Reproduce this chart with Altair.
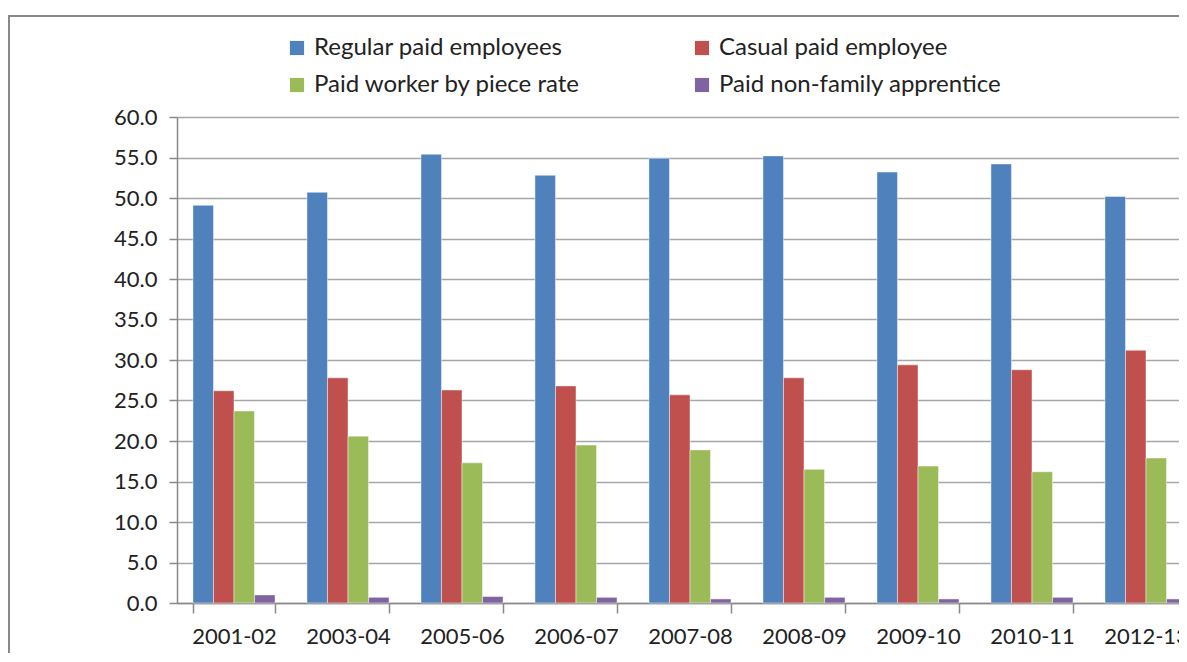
import altair as alt
import pandas as pd

categories = ["2001-02", "2003-04", "2005-06", "2006-07", "2007-08",
              "2008-09", "2009-10", "2010-11", "2012-13"]
series_names = ["Regular paid employees", "Casual paid employee",
                "Paid worker by piece rate", "Paid non-family apprentice"]
regular = [49.1, 50.7, 55.4, 52.8, 54.9, 55.2, 53.2, 54.2, 50.2]
casual = [26.2, 27.8, 26.3, 26.8, 25.7, 27.8, 29.4, 28.8, 31.2]
piece = [23.7, 20.6, 17.3, 19.5, 18.9, 16.5, 16.9, 16.2, 17.9]
apprentice = [1.0, 0.7, 0.8, 0.7, 0.5, 0.7, 0.5, 0.7, 0.5]
colors = ["#4F81BD", "#C0504D", "#9BBB59", "#8064A2"]

rows = []
for name, vals in zip(series_names, [regular, casual, piece, apprentice]):
    for c, v in zip(categories, vals):
        rows.append({"Year": c, "Series": name, "Value": v})
df = pd.DataFrame(rows)

FONT = "Lato"

bars = alt.Chart(df).mark_bar(stroke="white", strokeOpacity=0.45, strokeWidth=1).encode(
    x=alt.X("Year:N", sort=categories, title=None,
            scale=alt.Scale(range=[0, 1026], paddingInner=0.28, paddingOuter=0.14),
            axis=alt.Axis(labelAngle=0, bandPosition=0, tickBand="extent",
                          tickSize=10, labelPadding=13, labelFontSize=22,
                          labelFont=FONT, labelColor="#222", domainColor="#888",
                          tickColor="#888", domainWidth=1.5, tickWidth=1.5)),
    xOffset=alt.XOffset("Series:N", sort=series_names),
    y=alt.Y("Value:Q", title=None,
            scale=alt.Scale(domain=[0, 60]),
            axis=alt.Axis(values=list(range(0, 61, 5)), format=".1f",
                          tickSize=8, labelPadding=12, labelFontSize=22,
                          labelFont=FONT, labelColor="#222",
                          gridColor="#a6a6a6", gridWidth=1.5,
                          domainColor="#888", tickColor="#888",
                          domainWidth=1.5, tickWidth=1.5)),
    color=alt.Color("Series:N", sort=series_names,
                    scale=alt.Scale(domain=series_names, range=colors),
                    legend=alt.Legend(title=None, orient="none", legendX=108, legendY=-81,
                                      columns=2, direction="horizontal",
                                      columnPadding=109, rowPadding=13,
                                      symbolType="square", symbolSize=200,
                                      symbolStrokeWidth=0, labelOffset=5,
                                      labelFontSize=24, labelFont=FONT,
                                      labelColor="#222", labelLimit=400)),
)

frame = alt.Chart(pd.DataFrame({"a": [0]})).mark_rect(
    fill=None, stroke="#888", strokeWidth=2
).encode(x=alt.value(-168), x2=alt.value(2000), y=alt.value(-101), y2=alt.value(1000))

chart = alt.layer(frame, bars).properties(
    width=1002, height=486,
    autosize=alt.AutoSizeParams(type="none"),
    padding={"left": 169, "top": 109, "right": 0, "bottom": 50},
).configure_view(stroke=None).configure(background="white")

chart.save("out.html", embed_options={"renderer": "svg", "actions": False})
